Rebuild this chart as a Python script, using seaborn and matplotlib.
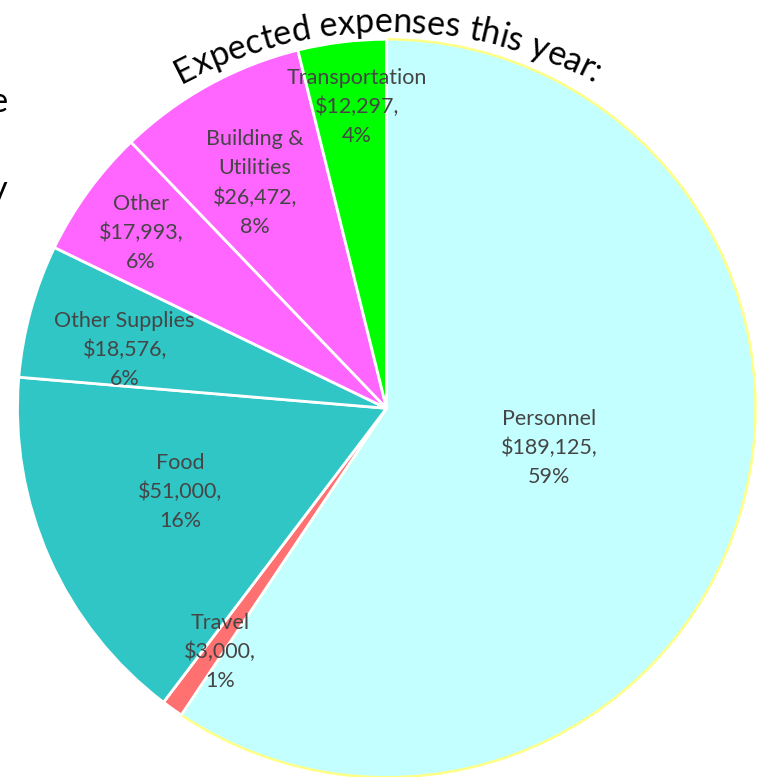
import numpy as np
import matplotlib
matplotlib.use('Agg')
import matplotlib.pyplot as plt
from matplotlib import font_manager
import seaborn as sns

# 数据
categories = ['Personnel', 'Travel', 'Food', 'Other Supplies', 'Other',
              'Building &\nUtilities', 'Transportation']
amounts = [189125, 3000, 51000, 18576, 17993, 26472, 12297]
colors = ['#C4FFFF', '#FF7070', '#31C6C6', '#31C6C6', '#FF66FF', '#FF66FF', '#00FF00']
title = 'Expected expenses this year:'

# 标签位置: 半径比例, 角度偏移
label_r = [0.453, 0.80, 0.604, 0.727, 0.818, 0.707, 0.82]
label_dth = [3.2, 1.2, -1.9, 2.8, 0.5, 1.4, -1.3]

sns.set_theme(style='white')
plt.rcParams['font.family'] = ['Lato', 'DejaVu Sans']

W, H = 758, 777
fig = plt.figure(figsize=(W / 100, H / 100), dpi=100)
ax = fig.add_axes([0, 0, 1, 1])

cx, cy, R = 386.5, H - 408.3, 369
total = sum(amounts)
labels = [f'{c}\n${v:,},\n{round(100 * v / total):.0f}%' for c, v in zip(categories, amounts)]

wedges, texts = ax.pie(amounts, labels=labels, colors=colors, startangle=90,
                       counterclock=False, center=(cx, cy), radius=R,
                       labeldistance=0.6,
                       wedgeprops=dict(edgecolor='white', linewidth=2),
                       textprops=dict(fontsize=15.5, color='#454545', linespacing=1.56))
wedges[0].set_edgecolor('#FFFF88')
wedges[0].set_linewidth(1.8)

for w, t, r, dth in zip(wedges, texts, label_r, label_dth):
    mid = np.radians((w.theta1 + w.theta2) / 2 + dth)
    t.set_position((cx + r * R * np.cos(mid), cy + r * R * np.sin(mid)))
    t.set_ha('center')
    t.set_va('center')
    t.set_multialignment('center')

# 弧形标题
tsize = 24.5
fp = font_manager.FontProperties(family='Lato', size=tsize)
font = font_manager.get_font(font_manager.findfont(fp))
font.set_size(tsize, 100)
advs = []
for ch in title:
    g = font.load_char(ord(ch))
    advs.append(g.linearHoriAdvance / 65536)
tot_w = sum(advs)
acx, acy, AR = 388, H - 472, 440
pos = 0
for ch, a in zip(title, advs):
    s = pos + a / 2
    pos += a
    if ch == ' ':
        continue
    th = np.pi / 2 + (tot_w / 2 - s) / AR
    ax.text(acx + AR * np.cos(th), acy + AR * np.sin(th), ch,
            rotation=np.degrees(th) - 90, rotation_mode='anchor',
            ha='center', va='baseline', fontsize=tsize, color='black')

# 左侧被截断的文字 (参考图里就是截断的)
ax.text(8, H - 112, 'the', ha='right', va='baseline', fontsize=tsize, color='black')
ax.text(8, H - 200, 'only', ha='right', va='baseline', fontsize=tsize, color='black')

ax.set_xlim(0, W)
ax.set_ylim(0, H)
ax.set_aspect('auto')
ax.axis('off')

plt.savefig('out.png', dpi=100)
